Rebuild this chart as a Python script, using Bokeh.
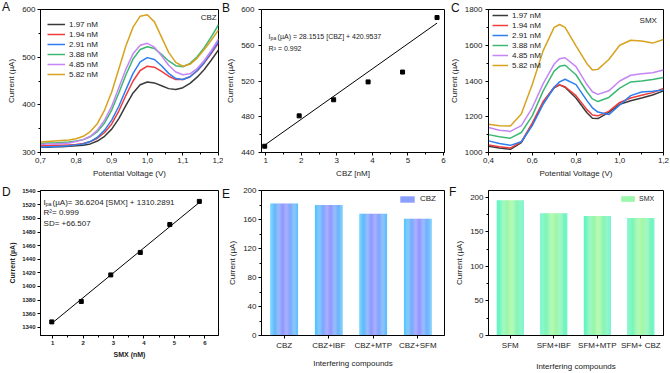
from bokeh.plotting import figure
from bokeh.models import (Range1d, FixedTicker, CustomJSTickFormatter, Legend,
                          LegendItem, Label, ColumnDataSource, GridBox, Div)
from bokeh.embed import file_html
from bokeh.resources import INLINE

FONT = "Liberation Sans"

# ---------------- A: DPV of CBZ ----------------
cbz_potential = [0.70, 0.72, 0.74, 0.76, 0.78, 0.80, 0.82, 0.84, 0.86, 0.88, 0.90, 0.92, 0.94,
                 0.96, 0.98, 1.00, 1.02, 1.04, 1.06, 1.08, 1.10, 1.12, 1.14, 1.16, 1.18, 1.20]
cbz_197 = [311, 311, 312, 312, 313, 314, 315, 318, 324, 334, 349, 371, 399,
           425, 442, 448, 446, 440, 434, 432, 436, 445, 458, 474, 494, 515]
cbz_194 = [314, 314, 315, 315, 316, 317, 319, 323, 330, 342, 360, 387, 420,
           450, 472, 481, 479, 470, 460, 453, 453, 459, 471, 488, 508, 530]
cbz_291 = [311, 312, 312, 313, 314, 316, 318, 323, 332, 347, 368, 397, 432,
           466, 490, 499, 495, 482, 466, 455, 453, 459, 472, 489, 510, 533]
cbz_388 = [319, 320, 320, 321, 322, 324, 327, 333, 344, 362, 389, 425, 463,
           496, 516, 522, 518, 506, 492, 482, 480, 487, 501, 520, 543, 568]
cbz_485 = [317, 318, 318, 319, 320, 323, 327, 334, 347, 368, 397, 436, 475,
           507, 525, 529, 521, 503, 483, 469, 463, 465, 476, 493, 514, 538]
cbz_582 = [322, 323, 324, 325, 326, 329, 334, 344, 361, 389, 427, 475, 524,
           563, 586, 589, 574, 542, 510, 489, 481, 485, 498, 516, 536, 557]

conc_labels = ["1.97 nM", "1.94 nM", "2.91 nM", "3.88 nM", "4.85 nM", "5.82 nM"]
line_colors = ["#3a3a3a", "#f03c3c", "#2d7ff0", "#3cb873", "#c585f5", "#d8a21e"]

# ---------------- B: CBZ calibration ----------------
cbz_conc = [0.97, 1.94, 2.91, 3.88, 4.85, 5.82]
cbz_peak = [447, 481, 499, 519, 530, 591]
cbz_slope, cbz_intercept = 28.1515, 420.9537

# ---------------- C: DPV of SMX ----------------
smx_potential = [0.40, 0.45, 0.50, 0.55, 0.60, 0.65, 0.70, 0.725, 0.75, 0.80,
                 0.85, 0.875, 0.90, 0.95, 1.00, 1.05, 1.10, 1.15, 1.20]
smx_197 = [1035, 1025, 1018, 1055, 1158, 1280, 1362, 1378, 1365, 1305,
           1222, 1192, 1190, 1225, 1270, 1290, 1305, 1322, 1345]
smx_194 = [1042, 1032, 1025, 1060, 1165, 1285, 1365, 1378, 1368, 1318,
           1240, 1210, 1205, 1230, 1280, 1305, 1320, 1335, 1358]
smx_291 = [1065, 1050, 1040, 1060, 1150, 1270, 1365, 1395, 1410, 1380,
           1290, 1250, 1226, 1212, 1266, 1318, 1338, 1343, 1350]
smx_388 = [1100, 1088, 1080, 1112, 1205, 1345, 1455, 1482, 1488, 1435,
           1340, 1300, 1285, 1308, 1360, 1395, 1400, 1408, 1420]
smx_485 = [1140, 1125, 1118, 1150, 1250, 1385, 1495, 1525, 1530, 1480,
           1380, 1340, 1325, 1345, 1400, 1432, 1440, 1446, 1462]
smx_582 = [1158, 1150, 1148, 1215, 1380, 1570, 1700, 1716, 1700, 1597,
           1497, 1461, 1465, 1520, 1600, 1628, 1624, 1612, 1632]

# ---------------- D: SMX calibration ----------------
smx_conc = [0.97, 1.94, 2.91, 3.88, 4.85, 5.82]
smx_peak = [1348, 1378, 1417, 1450, 1491, 1525]
smx_slope, smx_intercept = 36.6204, 1310.2891

# ---------------- E / F: interference ----------------
cbz_mix = ["CBZ", "CBZ+IBF", "CBZ+MTP", "CBZ+SFM"]
cbz_mix_current = [182, 180, 168, 161]
smx_mix = ["SFM", "SFM+IBF", "SFM+MTP", "SFM+ CBZ"]
smx_mix_current = [196, 177, 173, 170]

# panel letters: (text, left px, top px) on the whole page
panel_letters = [("A", 2, 1), ("B", 222, 2), ("C", 451, 2),
                 ("D", 2, 186), ("E", 222, 188), ("F", 449, 186)]


def make_fig(w, h, xr, yr, left, right, top, bottom):
    p = figure(width=w, height=h, x_range=Range1d(*xr), y_range=Range1d(*yr),
               output_backend="svg", toolbar_location=None,
               min_border_left=left, min_border_right=right,
               min_border_top=top, min_border_bottom=bottom)
    p.grid.visible = False
    p.outline_line_color = "black"
    p.outline_line_alpha = 1
    p.outline_line_width = 1
    for ax in (p.xaxis[0], p.yaxis[0]):
        ax.axis_line_color = "black"
        ax.major_tick_in = 0
        ax.major_tick_out = 3
        ax.minor_tick_in = 0
        ax.minor_tick_out = 2
        ax.major_tick_line_color = "black"
        ax.minor_tick_line_color = "black"
        ax.major_label_text_font = FONT
        ax.major_label_text_font_size = "8px"
        ax.major_label_text_color = "#222222"
        ax.axis_label_text_font = FONT
        ax.axis_label_text_font_size = "8px"
        ax.axis_label_text_font_style = "normal"
        ax.axis_label_text_color = "#222222"
        ax.major_label_standoff = 2
        ax.axis_label_standoff = 3
    return p


def comma_fmt():
    return CustomJSTickFormatter(code="return tick.toFixed(1).replace('.', ',');")


def blend(stops, t):
    for (t0, c0), (t1, c1) in zip(stops[:-1], stops[1:]):
        if t0 <= t <= t1:
            f = (t - t0) / (t1 - t0)
            a = [int(c0[i:i + 2], 16) for i in (1, 3, 5)]
            b = [int(c1[i:i + 2], 16) for i in (1, 3, 5)]
            return "#%02x%02x%02x" % tuple(round(a[k] + (b[k] - a[k]) * f) for k in range(3))
    return stops[-1][1]


def gradient_bars(p, values, stops, width=0.62, n=24):
    xs, tops, cols = [], [], []
    for i, v in enumerate(values):
        for k in range(n):
            t = (k + 0.5) / n
            xs.append(i - width / 2 + t * width)
            tops.append(v)
            cols.append(blend(stops, t))
    src = ColumnDataSource(dict(x=xs, top=tops, color=cols))
    return p.vbar(x="x", top="top", bottom=0, width=width / n * 1.12, fill_color="color",
                  line_color=None, source=src)


def sub_label(p, x, y, size, subsize, rest, sub_dx, rest_dx):
    p.add_layout(Label(x=x, y=y, text="I", text_font=FONT, text_font_size=size,
                       text_baseline="middle", text_color="#222222"))
    p.add_layout(Label(x=x, y=y, x_offset=sub_dx, y_offset=-2, text="pa", text_font=FONT,
                       text_font_size=subsize, text_baseline="middle", text_color="#222222"))
    p.add_layout(Label(x=x, y=y, x_offset=rest_dx, text=rest, text_font=FONT,
                       text_font_size=size, text_baseline="middle", text_color="#222222"))


def line_legend(p, renderers, loc, glyph_w):
    items = [LegendItem(label=lab, renderers=[r]) for lab, r in zip(conc_labels, renderers)]
    lg = Legend(items=items, location=loc, glyph_width=glyph_w, glyph_height=10,
                label_height=10, spacing=0, padding=0, margin=0, label_standoff=4,
                label_text_font=FONT, label_text_font_size="8px",
                label_text_color="#222222", border_line_color=None,
                background_fill_alpha=0)
    p.add_layout(lg)


# ---- A ----
pa = make_fig(223, 186, (0.7, 1.2), (300, 600), 33, 5, 7, 30)
ra = []
for ys, c in zip([cbz_197, cbz_194, cbz_291, cbz_388, cbz_485, cbz_582], line_colors):
    ra.append(pa.line(cbz_potential, ys, line_color=c, line_width=1.5))
line_legend(pa, ra, (7, 73), 18)
pa.xaxis.ticker = FixedTicker(ticks=[0.7, 0.8, 0.9, 1.0, 1.1, 1.2],
                              minor_ticks=[0.75, 0.85, 0.95, 1.05, 1.15])
pa.xaxis.formatter = comma_fmt()
pa.yaxis.ticker = FixedTicker(ticks=[300, 400, 500, 600], minor_ticks=[350, 450, 550])
pa.xaxis.axis_label = "Potential Voltage (V)"
pa.yaxis.axis_label = "Current (µA)"
pa.add_layout(Label(x=1.195, y=584, text="CBZ", text_font=FONT, text_font_size="8px",
                    text_align="right", text_baseline="middle", text_color="#222222"))

# ---- B ----
pb = make_fig(223, 186, (0.88, 6.03), (440, 600), 37, 2, 7, 30)
fit_x = [min(cbz_conc), max(cbz_conc)]
pb.line(fit_x, [cbz_slope * v + cbz_intercept for v in fit_x], line_color="black", line_width=1)
pb.scatter(cbz_conc, cbz_peak, marker="square", size=4, fill_color="black", line_color="black")
pb.xaxis.ticker = FixedTicker(ticks=[1, 2, 3, 4, 5, 6], minor_ticks=[1.5, 2.5, 3.5, 4.5, 5.5])
pb.yaxis.ticker = FixedTicker(ticks=[440, 480, 520, 560, 600], minor_ticks=[460, 500, 540, 580])
pb.xaxis.axis_label = "CBZ [nM]"
pb.yaxis.axis_label = "Current (µA)"
pb.yaxis.major_label_standoff = 4
sub_label(pb, 1.08, 570, "7px", "5px", "(µA) = 28.1515 [CBZ] + 420.9537", 2, 9)
pb.add_layout(Label(x=1.08, y=556, text="R² = 0.992", text_font=FONT, text_font_size="7px",
                    text_baseline="middle", text_color="#222222"))

# ---- C ----
pc = make_fig(224, 186, (0.4, 1.2), (1000, 1800), 37, 7, 9, 34)
rc = []
for ys, c in zip([smx_197, smx_194, smx_291, smx_388, smx_485, smx_582], line_colors):
    rc.append(pc.line(smx_potential, ys, line_color=c, line_width=1.5))
line_legend(pc, rc, (4, 82), 16)
pc.xaxis.ticker = FixedTicker(ticks=[0.4, 0.6, 0.8, 1.0, 1.2], minor_ticks=[0.5, 0.7, 0.9, 1.1])
pc.xaxis.formatter = comma_fmt()
pc.yaxis.ticker = FixedTicker(ticks=[1000, 1200, 1400, 1600, 1800],
                              minor_ticks=[1100, 1300, 1500, 1700])
pc.xaxis.axis_label = "Potential Voltage (V)"
pc.yaxis.axis_label = "Current (µA)"
pc.yaxis.major_label_standoff = 3
pc.add_layout(Label(x=1.17, y=1738, text="SMX", text_font=FONT, text_font_size="8px",
                    text_align="right", text_baseline="middle", text_color="#222222"))

# ---- D ----
pd_ = make_fig(223, 187, (0.6, 6.45), (1328, 1541), 40, 2, 4, 34)
fit_x2 = [min(smx_conc), max(smx_conc)]
pd_.line(fit_x2, [smx_slope * v + smx_intercept for v in fit_x2], line_color="black", line_width=1)
pd_.scatter(smx_conc, smx_peak, marker="square", size=4, fill_color="black", line_color="black")
pd_.xaxis.ticker = FixedTicker(ticks=[1, 2, 3, 4, 5, 6], minor_ticks=[1.5, 2.5, 3.5, 4.5, 5.5])
pd_.yaxis.ticker = FixedTicker(ticks=list(range(1340, 1541, 20)))
for ax in (pd_.xaxis[0], pd_.yaxis[0]):
    ax.major_label_text_font_size = "6px"
    ax.major_label_text_font_style = "bold"
    ax.axis_label_text_font_size = "7px"
    ax.axis_label_text_font_style = "bold"
pd_.xaxis.axis_label = "SMX (nM)"
pd_.yaxis.axis_label = "Current (µA)"
sub_label(pd_, 0.7, 1524, "8px", "5.5px", "(µA)= 36.6204 [SMX] + 1310.2891", 2, 9)
pd_.add_layout(Label(x=0.7, y=1508, text="R²= 0.999", text_font=FONT, text_font_size="8px",
                     text_baseline="middle", text_color="#222222"))
pd_.add_layout(Label(x=0.7, y=1492, text="SD= +66.507", text_font=FONT, text_font_size="8px",
                     text_baseline="middle", text_color="#222222"))

# ---- E ----
pe = make_fig(223, 187, (-0.51, 3.6), (0, 200), 36, 1, 4, 34)
e_stops = [(0.0, "#50cbfb"), (0.5, "#9b95ff"), (1.0, "#5ec2fc")]
re = gradient_bars(pe, cbz_mix_current, e_stops)
pe.xaxis.ticker = FixedTicker(ticks=list(range(len(cbz_mix))), minor_ticks=[])
pe.xaxis.major_label_overrides = {i: s for i, s in enumerate(cbz_mix)}
pe.yaxis.ticker = FixedTicker(ticks=[0, 40, 80, 120, 160, 200],
                              minor_ticks=[20, 60, 100, 140, 180])
pe.xaxis.axis_label = "Interfering compounds"
pe.yaxis.axis_label = "Current (µA)"
pe.xaxis.axis_label_standoff = 6
pe.add_layout(Legend(items=[LegendItem(label="CBZ", renderers=[re], index=9)],
                     location="top_right", glyph_width=18, glyph_height=8, label_height=8,
                     padding=0, margin=4, label_standoff=4, label_text_font=FONT,
                     label_text_font_size="8px", label_text_color="#222222",
                     border_line_color=None, background_fill_alpha=0))

# ---- F ----
pf = make_fig(224, 187, (-0.5, 3.52), (0, 210), 36, 5, 4, 34)
f_stops = [(0.0, "#5ff5c6"), (0.5, "#abf8a2"), (1.0, "#68f3c8")]
rf = gradient_bars(pf, smx_mix_current, f_stops)
pf.xaxis.ticker = FixedTicker(ticks=list(range(len(smx_mix))), minor_ticks=[])
pf.xaxis.major_label_overrides = {i: s for i, s in enumerate(smx_mix)}
pf.yaxis.ticker = FixedTicker(ticks=[0, 50, 100, 150, 200], minor_ticks=[25, 75, 125, 175])
pf.xaxis.axis_label = "Interfering compounds"
pf.yaxis.axis_label = "Current (µA)"
pf.xaxis.axis_label_standoff = 9
pf.add_layout(Legend(items=[LegendItem(label="SMX", renderers=[rf], index=9)],
                     location="top_right", glyph_width=17, glyph_height=7, label_height=8,
                     padding=0, margin=4, label_standoff=3, label_text_font=FONT,
                     label_text_font_size="7px", label_text_color="#222222",
                     border_line_color=None, background_fill_alpha=0))

# panel letters sit on a transparent overlay spanning the whole grid
spans = "".join(
    '<span style="position:absolute;left:%dpx;top:%dpx;font-family:\'%s\';'
    'font-size:12px;line-height:12px;color:#111111">%s</span>' % (x, y, FONT, t)
    for t, x, y in panel_letters)
letters = Div(text='<div style="position:relative;width:670px;height:373px">%s</div>' % spans,
              width=670, height=373, margin=0, styles={"pointer-events": "none"})

layout = GridBox(children=[(pa, 0, 0), (pb, 0, 1), (pc, 0, 2),
                           (pd_, 1, 0), (pe, 1, 1), (pf, 1, 2),
                           (letters, 0, 0, 2, 3)], spacing=0)
open("out.html", "w").write(file_html(layout, INLINE))
